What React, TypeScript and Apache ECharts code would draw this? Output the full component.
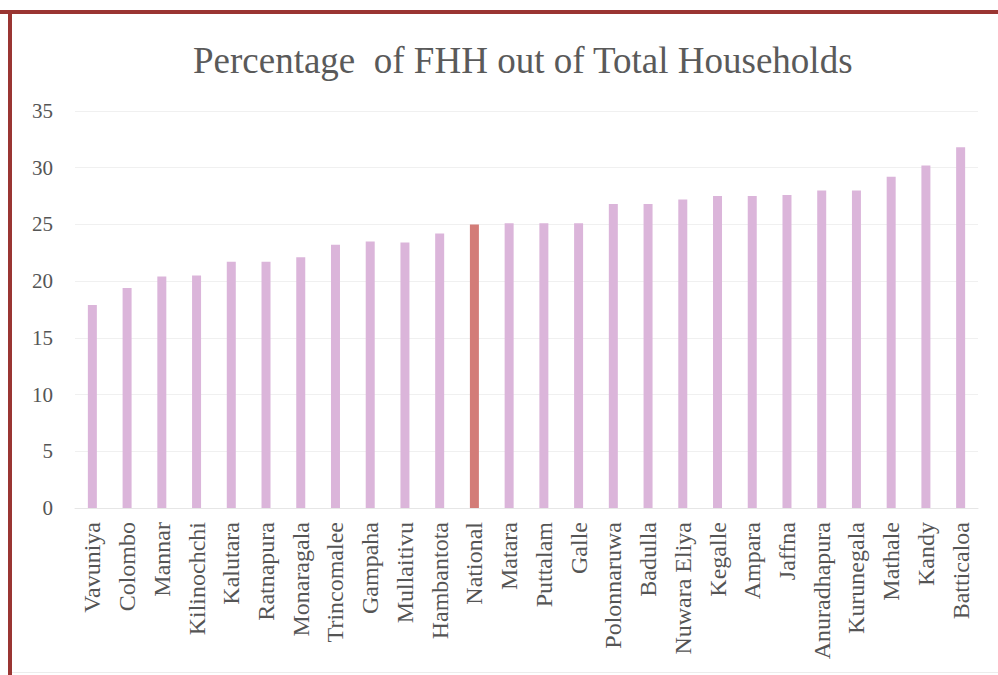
import React, { useEffect, useRef } from "react";
import * as echarts from "echarts";

const title = "Percentage  of FHH out of Total Households";
const districts = [
  "Vavuniya", "Colombo", "Mannar", "Kilinochchi", "Kalutara", "Ratnapura", "Monaragala",
  "Trincomalee", "Gampaha", "Mullaitivu", "Hambantota", "National", "Matara", "Puttalam",
  "Galle", "Polonnaruwa", "Badulla", "Nuwara Eliya", "Kegalle", "Ampara", "Jaffna",
  "Anuradhapura", "Kurunegala", "Mathale", "Kandy", "Batticaloa",
];
const fhhPercent = [
  17.9, 19.4, 20.4, 20.5, 21.7, 21.7, 22.1,
  23.2, 23.5, 23.4, 24.2, 25.0, 25.1, 25.1,
  25.1, 26.8, 26.8, 27.2, 27.5, 27.5, 27.6,
  28.0, 28.0, 29.2, 30.2, 31.8,
];
const highlight = "National";
const yTicks = { min: 0, max: 35, interval: 5 };

export default function App() {
  const ref = useRef<HTMLDivElement>(null);
  useEffect(() => {
    if (!ref.current) return;
    const chart = echarts.init(ref.current, null, { renderer: "svg" });
    const font = "'Liberation Serif', 'Times New Roman', serif";
    chart.setOption({
      animation: false,
      backgroundColor: "#ffffff",
      title: {
        text: title,
        left: 188,
        top: 37,
        textStyle: { fontFamily: font, fontSize: 37, fontWeight: "normal", color: "#5a5a5a" },
      },
      graphic: [
        { type: "rect", shape: { x: 0, y: 10, width: 998, height: 4 }, style: { fill: "#9a3532" }, silent: true },
        { type: "rect", shape: { x: 8, y: 10, width: 4, height: 665 }, style: { fill: "#9a3532" }, silent: true },
        { type: "rect", shape: { x: 12, y: 672, width: 986, height: 1 }, style: { fill: "#ececec" }, silent: true },
      ],
      grid: { left: 75, right: 20, top: 111, bottom: 167, containLabel: false },
      xAxis: {
        type: "category",
        data: districts,
        axisTick: { show: false },
        axisLine: { show: true, lineStyle: { color: "#e6e6e6" } },
        axisLabel: {
          rotate: 90,
          interval: 0,
          margin: 14,
          fontFamily: font,
          fontSize: 24,
          color: "#555555",
        },
      },
      yAxis: {
        type: "value",
        min: yTicks.min,
        max: yTicks.max,
        interval: yTicks.interval,
        axisLine: { show: false },
        axisTick: { show: false },
        splitLine: { lineStyle: { color: "#f0f0f0", width: 1 } },
        axisLabel: { fontFamily: font, fontSize: 21, color: "#555555", margin: 22 },
      },
      series: [
        {
          type: "bar",
          data: fhhPercent.map((v, i) => ({
            value: v,
            itemStyle: { color: districts[i] === highlight ? "#d37c78" : "#dbb5da" },
          })),
          barWidth: 9,
        },
      ],
    });
    return () => chart.dispose();
  }, []);
  return <div ref={ref} style={{ width: 998, height: 675, position: "absolute", left: 0, top: 0 }} />;
}
